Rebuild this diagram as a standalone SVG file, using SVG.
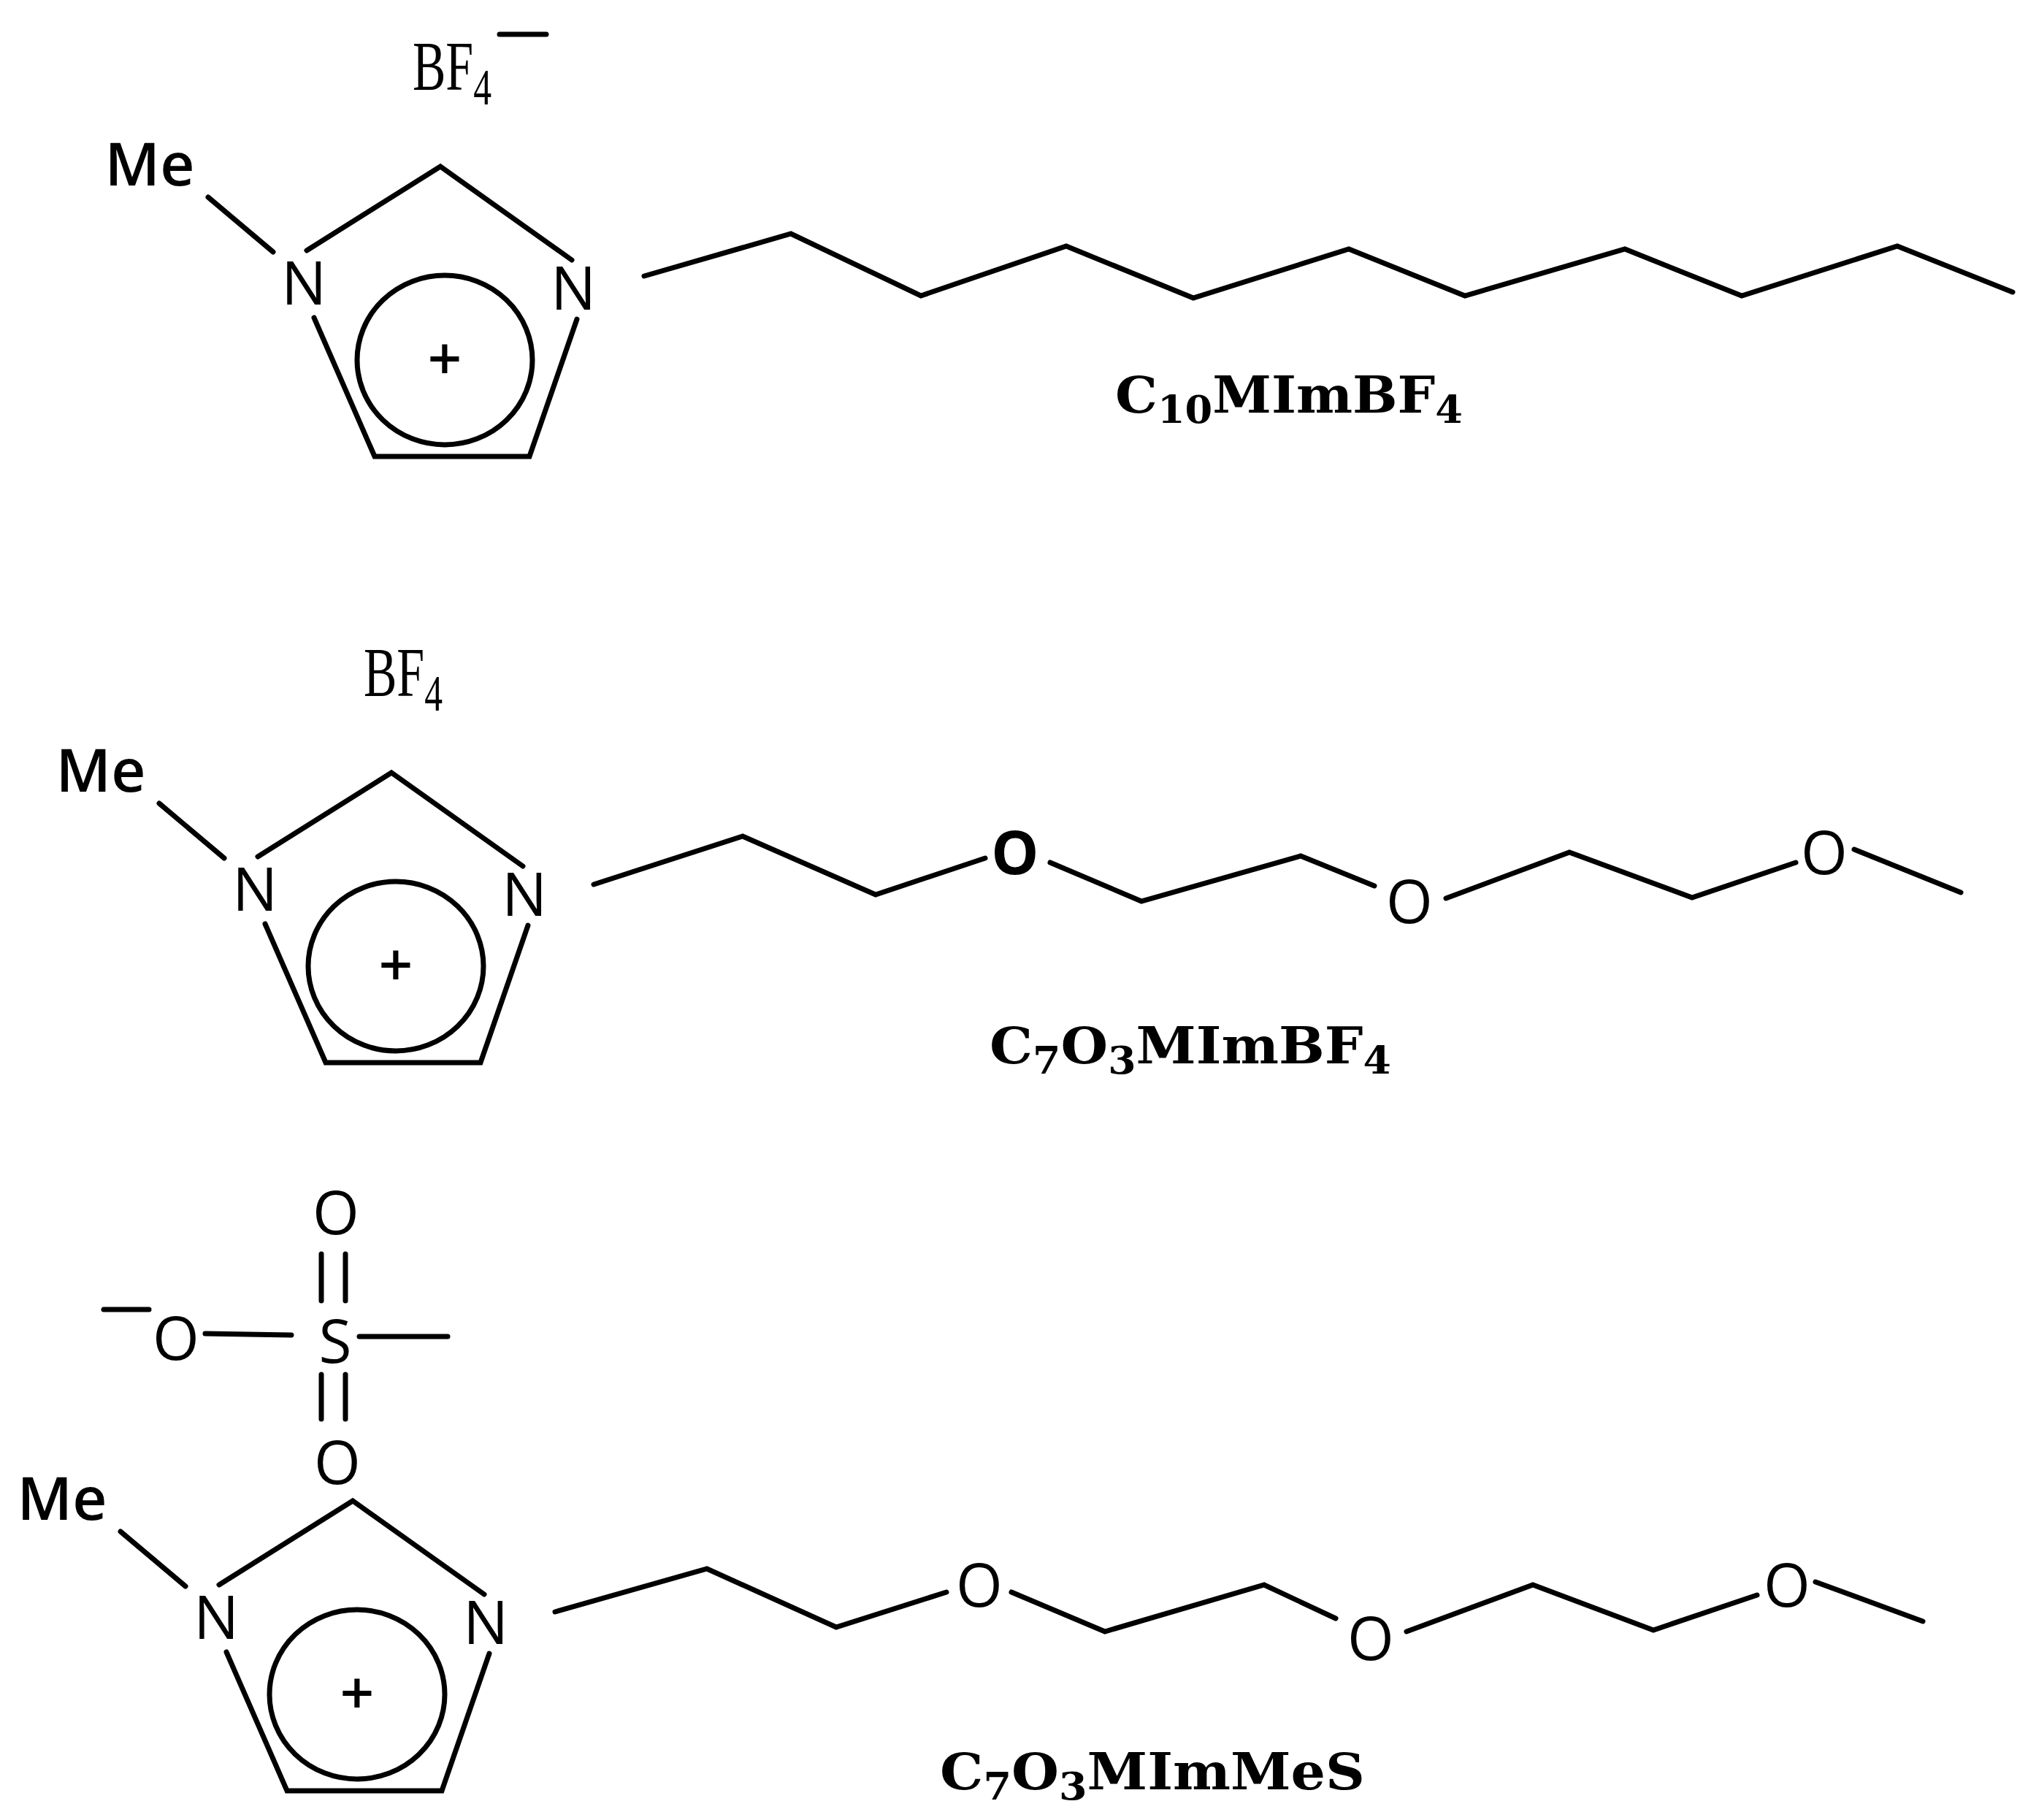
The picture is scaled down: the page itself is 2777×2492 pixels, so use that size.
<svg xmlns="http://www.w3.org/2000/svg" width="2777" height="2492" viewBox="0 0 2777 2492">
<style>
.b{fill:none;stroke:#000;stroke-width:7;stroke-linecap:round;stroke-linejoin:miter}
.a{font-family:"Open Sans","Liberation Sans",sans-serif;font-size:82px;fill:#000;text-anchor:middle}
.s{font-family:"Liberation Serif","DejaVu Serif",serif;font-size:96px;fill:#000}
.l{font-family:"DejaVu Serif","Liberation Serif",serif;font-weight:bold;font-size:70px;fill:#000}
</style>
<rect width="2777" height="2492" fill="#fff"/>
<defs>
<g id="ring">
<line class="b" x1="285" y1="270" x2="374" y2="345"/>
<polyline class="b" points="420,343 603,228 783,356"/>
<polyline class="b" points="790,437 725,625 513,625 430,435"/>
<ellipse class="b" cx="609" cy="493" rx="120" ry="116"/>
<text class="a" x="609" y="520" style="font-weight:600">+</text>
<text class="a" x="416" y="417">N</text>
<text class="a" x="785" y="424">N</text>
<text class="a" x="205" y="254" style="font-weight:600">Me</text>
</g>
</defs>
<g id="mol1">
<use href="#ring"/>
<text class="s" x="565" y="123" textLength="108" lengthAdjust="spacingAndGlyphs">BF<tspan dy="20" font-size="70">4</tspan></text>
<line class="b" x1="684" y1="47" x2="748" y2="47" stroke-width="4"/>
<polyline class="b" points="882,378 1083,320 1261,405 1460,337 1634,408 1847,341 2006,405 2225,341 2385,405 2598,337 2756,400"/>
<text class="l" x="1527" y="565" textLength="476" lengthAdjust="spacingAndGlyphs">C<tspan dy="14" font-size="52">10</tspan><tspan dy="-14">MImBF</tspan><tspan dy="14" font-size="52">4</tspan></text>
</g>
<g id="mol2">
<use href="#ring" transform="translate(-67,830)"/>
<text class="s" x="498" y="953" textLength="108" lengthAdjust="spacingAndGlyphs">BF<tspan dy="20" font-size="70">4</tspan></text>
<polyline class="b" points="813,1211 1017,1145 1199,1225 1349,1175"/>
<text class="a" x="1390" y="1197" style="font-weight:bold">O</text>
<polyline class="b" points="1438,1181 1563,1234 1781,1172 1882,1213"/>
<text class="a" x="1930" y="1264">O</text>
<polyline class="b" points="1980,1230 2149,1167 2317,1229 2459,1181"/>
<text class="a" x="2498" y="1197">O</text>
<line class="b" x1="2539" y1="1163" x2="2685" y2="1222"/>
<text class="l" x="1355" y="1456" textLength="550" lengthAdjust="spacingAndGlyphs">C<tspan dy="14" font-size="52">7</tspan><tspan dy="-14">O</tspan><tspan dy="14" font-size="52">3</tspan><tspan dy="-14">MImBF</tspan><tspan dy="14" font-size="52">4</tspan></text>
</g>
<g id="mol3">
<use href="#ring" transform="translate(-120,1827)"/>
<text class="a" x="460" y="1690">O</text>
<line class="b" x1="440" y1="1717" x2="440" y2="1781"/>
<line class="b" x1="473" y1="1717" x2="473" y2="1781"/>
<line class="b" x1="440" y1="1882" x2="440" y2="1943"/>
<line class="b" x1="473" y1="1882" x2="473" y2="1943"/>
<text class="a" x="462" y="2032">O</text>
<line class="b" x1="142" y1="1793" x2="204" y2="1793" stroke-width="4"/>
<text class="a" x="241" y="1862">O</text>
<line class="b" x1="281" y1="1826" x2="399" y2="1828"/>
<text class="a" x="459" y="1866">S</text>
<line class="b" x1="492" y1="1830" x2="613" y2="1830"/>
<polyline class="b" points="760,2207 968,2148 1145,2228 1296,2180"/>
<text class="a" x="1341" y="2200">O</text>
<polyline class="b" points="1385,2180 1513,2234 1731,2170 1829,2216"/>
<text class="a" x="1877" y="2273">O</text>
<polyline class="b" points="1926,2234 2099,2170 2264,2232 2406,2184"/>
<text class="a" x="2447" y="2200">O</text>
<line class="b" x1="2486" y1="2166" x2="2633" y2="2220"/>
<text class="l" x="1287" y="2450" textLength="582" lengthAdjust="spacingAndGlyphs">C<tspan dy="14" font-size="52">7</tspan><tspan dy="-14">O</tspan><tspan dy="14" font-size="52">3</tspan><tspan dy="-14">MImMeS</tspan></text>
</g>
</svg>
